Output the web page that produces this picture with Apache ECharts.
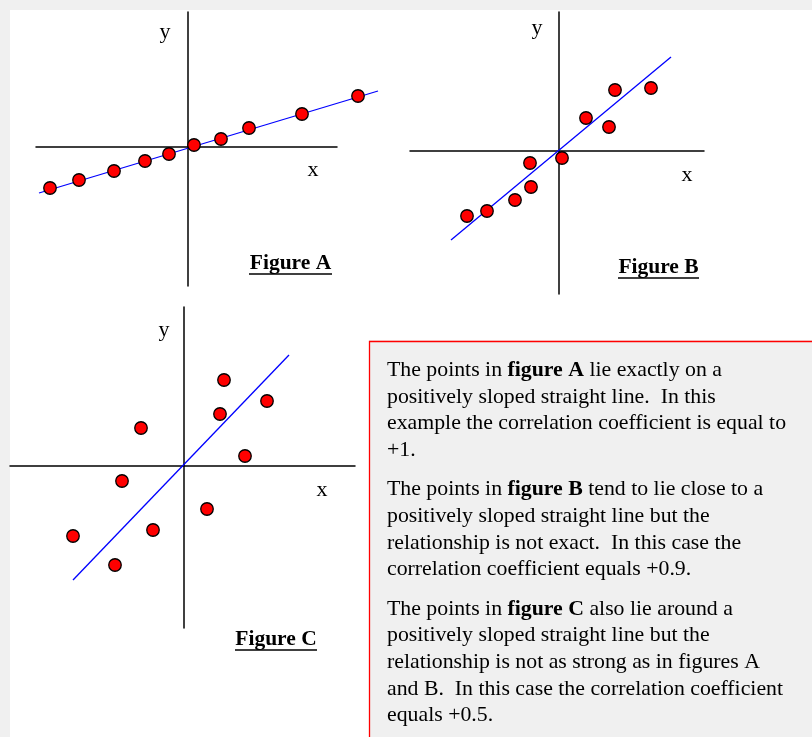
<!DOCTYPE html>
<html>
<head>
<meta charset="utf-8">
<script src="https://cdn.jsdelivr.net/npm/echarts@6/dist/echarts.min.js"></script>
<style>
    html, body { margin: 0; padding: 0; background: #f0f0f0; }
    #chart { width: 812px; height: 737px; }
</style>
</head>
<body>
<div id="chart"></div>
<script>
// points (origin = where the axes cross)
let figAPoints = [[-13.8, -4.1], [-10.9, -3.3], [-7.4, -2.4], [-4.3, -1.4], [-1.9, -0.7],
    [0.6, 0.2], [3.3, 0.8], [6.1, 1.9], [11.4, 3.3], [17.0, 5.1]];
let figALine = [[-14.9, -4.6], [19.0, 5.6]];

let figBPoints = [[-9.2, -6.5], [-7.2, -6.0], [-4.4, -4.9], [-2.8, -3.6], [-2.9, -1.2],
    [0.3, -0.7], [2.7, 3.3], [5.0, 2.4], [5.6, 6.1], [9.2, 6.3]];
let figBLine = [[-10.8, -8.9], [11.2, 9.4]];

let figCPoints = [[4.0, 8.6], [8.3, 6.5], [3.6, 5.2], [-4.3, 3.8], [6.1, 1.0],
    [-6.2, -1.5], [2.3, -4.3], [-3.1, -6.4], [-11.1, -7.0], [-6.9, -9.9]];
let figCLine = [[-11.1, -11.4], [10.5, 11.1]];

let figureNames = ["Figure A", "Figure B", "Figure C"];

let paragraphs = [
    [["The points in ", "figure A", " lie exactly on a"], ["positively sloped straight line.  In this"],
        ["example the correlation coefficient is equal to"], ["+1."]],
    [["The points in ", "figure B", " tend to lie close to a"], ["positively sloped straight line but the"],
        ["relationship is not exact.  In this case the"], ["correlation coefficient equals +0.9."]],
    [["The points in ", "figure C", " also lie around a"], ["positively sloped straight line but the"],
        ["relationship is not as strong as in figures A"], ["and B.  In this case the correlation coefficient"],
        ["equals +0.5."]]
];

let serif = '"Liberation Serif", "Times New Roman", serif';
let W = 812, H = 737;

// grid = extent of the drawn axes; x / y = axis ranges in data units
let figures = [
    {grid: {left: 36, top: 12, width: 301, height: 274}, x: [-15.2, 14.9], y: [-13.9, 13.5],
        points: figAPoints, line: figALine, yLabel: [165, 32], xLabel: [313, 170], caption: [249, 332, 263]},
    {grid: {left: 410, top: 12, width: 294, height: 282}, x: [-14.9, 14.5], y: [-14.3, 13.9],
        points: figBPoints, line: figBLine, yLabel: [537, 28], xLabel: [687, 175], caption: [618, 699, 267]},
    {grid: {left: 10, top: 307, width: 345, height: 321}, x: [-17.4, 17.1], y: [-16.2, 15.9],
        points: figCPoints, line: figCLine, yLabel: [164, 330], xLabel: [322, 490], caption: [235, 317, 639]}
];

let chart = echarts.init(document.getElementById('chart'));

let grids = [], xAxes = [], yAxes = [], series = [];
let graphics = [{
    type: 'rect', z: -100, silent: true,
    shape: {x: 10, y: 10, width: 802, height: 727},
    style: {fill: '#ffffff'}
}];

let hidden = {show: false};
let pad = 60;

figures.forEach(function (fig, i) {
    let g = fig.grid;
    // grid for the crossing axes
    grids.push(Object.assign({outerBoundsMode: 'none'}, g));
    let axisStyle = {
        axisLine: {onZero: true, lineStyle: {color: '#000', width: 1.5}},
        axisTick: hidden,
        axisLabel: hidden,
        splitLine: hidden
    };
    xAxes.push(Object.assign({type: 'value', gridIndex: 2 * i, min: fig.x[0], max: fig.x[1]}, axisStyle));
    yAxes.push(Object.assign({type: 'value', gridIndex: 2 * i, min: fig.y[0], max: fig.y[1]}, axisStyle));

    // larger grid with the same scale, so marks past the axis ends are not cut
    let sx = (fig.x[1] - fig.x[0]) / g.width;
    let sy = (fig.y[1] - fig.y[0]) / g.height;
    let padL = Math.min(pad, g.left), padT = Math.min(pad, g.top);
    let padR = Math.min(pad, W - g.left - g.width), padB = Math.min(pad, H - g.top - g.height);
    grids.push({outerBoundsMode: 'none', left: g.left - padL, top: g.top - padT,
        width: g.width + padL + padR, height: g.height + padT + padB});
    xAxes.push({type: 'value', gridIndex: 2 * i + 1, show: false,
        min: fig.x[0] - padL * sx, max: fig.x[1] + padR * sx});
    yAxes.push({type: 'value', gridIndex: 2 * i + 1, show: false,
        min: fig.y[0] - padB * sy, max: fig.y[1] + padT * sy});

    series.push({
        type: 'line', xAxisIndex: 2 * i + 1, yAxisIndex: 2 * i + 1, data: fig.line, clip: false,
        symbol: 'none', lineStyle: {color: '#0000ff', width: 1.3}, z: 3, silent: true
    });
    series.push({
        type: 'scatter', xAxisIndex: 2 * i + 1, yAxisIndex: 2 * i + 1, data: fig.points, clip: false,
        symbolSize: 12.5, itemStyle: {color: '#ff0000', borderColor: '#000', borderWidth: 1.3, opacity: 1},
        z: 4, silent: true
    });
    graphics.push({
        type: 'text', x: fig.yLabel[0], y: fig.yLabel[1],
        style: {text: 'y', font: '22px ' + serif, fill: '#000', align: 'center', verticalAlign: 'middle'}
    });
    graphics.push({
        type: 'text', x: fig.xLabel[0], y: fig.xLabel[1],
        style: {text: 'x', font: '22px ' + serif, fill: '#000', align: 'center', verticalAlign: 'middle'}
    });
    graphics.push({
        type: 'text', x: (fig.caption[0] + fig.caption[1]) / 2, y: fig.caption[2],
        style: {text: figureNames[i], font: 'bold 21.5px ' + serif, fill: '#000', align: 'center', verticalAlign: 'middle'}
    });
    graphics.push({
        type: 'line', silent: true,
        shape: {x1: fig.caption[0], y1: fig.caption[2] + 11, x2: fig.caption[1], y2: fig.caption[2] + 11},
        style: {stroke: '#000', lineWidth: 1.3}
    });
});

// explanation box: grey fill with a thin red frame
graphics.push({
    type: 'rect', z: -50, silent: true,
    shape: {x: 369, y: 340, width: 460, height: 420},
    style: {fill: '#f0f0f0'}
});
graphics.push({
    type: 'polyline', silent: true,
    shape: {points: [[812, 341.5], [369.5, 341.5], [369.5, 737]]},
    style: {stroke: '#ff0000', lineWidth: 1.3, fill: null}
});
let lineHeight = 26.7;
let textTop = 357;
paragraphs.forEach(function (para) {
    let text = para.map(function (parts) {
        return parts.map(function (part, k) {
            return (k === 1 ? '{b|' : '{n|') + part + '}';
        }).join('');
    }).join('\n');
    graphics.push({
        type: 'text', x: 387, y: textTop,
        style: {
            text: text, verticalAlign: 'top', fill: '#000',
            rich: {
                n: {fontFamily: serif, fontSize: 21.8, lineHeight: lineHeight, color: '#000'},
                b: {fontFamily: serif, fontSize: 21.8, fontWeight: 'bold', lineHeight: lineHeight, color: '#000'}
            }
        }
    });
    textTop += para.length * lineHeight + 12.5;
});

chart.setOption({
    animation: false,
    backgroundColor: '#f0f0f0',
    grid: grids,
    xAxis: xAxes,
    yAxis: yAxes,
    series: series,
    graphic: graphics
});
</script>
</body>
</html>
